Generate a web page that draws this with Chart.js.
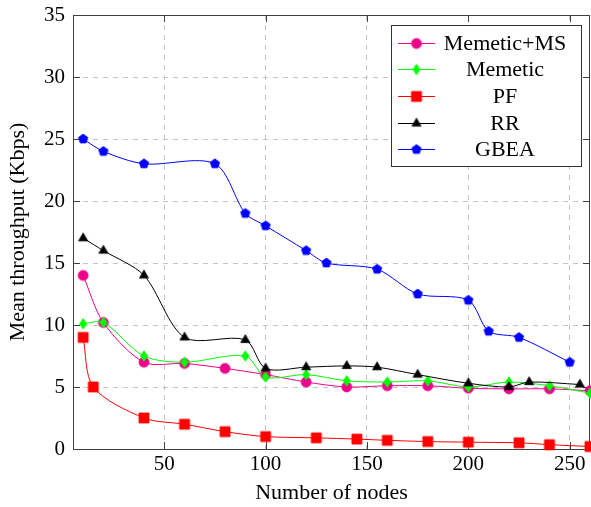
<!DOCTYPE html>
<html>
<head>
<meta charset="utf-8">
<script src="https://cdn.jsdelivr.net/npm/chart.js@4/dist/chart.umd.min.js"></script>
<style>
html,body{margin:0;padding:0;background:#fff;}
#wrap{width:591px;height:507px;position:relative;}
</style>
</head>
<body>
<div id="wrap"><canvas id="c" width="591" height="507"></canvas></div>
<script>
// ---------- data ----------
const xLabel = 'Number of nodes';
const yLabel = 'Mean throughput (Kbps)';
const xTicks = [50, 100, 150, 200, 250];
const yTicks = [0, 5, 10, 15, 20, 25, 30, 35];
const seriesNames = ['Memetic+MS', 'Memetic', 'PF', 'RR', 'GBEA'];

const memeticMsX = [10, 20, 40, 60, 80, 100, 120, 140, 160, 180, 200, 220, 240, 260];
const memeticMsY = [14, 10.2, 7.0, 6.9, 6.5, 6.0, 5.4, 5.0, 5.1, 5.1, 4.9, 4.85, 4.85, 4.7];

const memeticX = [10, 20, 40, 60, 90, 100, 120, 140, 160, 180, 200, 220, 240, 260];
const memeticY = [10.1, 10.2, 7.5, 7.0, 7.5, 5.8, 6.0, 5.5, 5.4, 5.5, 5.0, 5.4, 5.1, 4.5];

const pfX = [10, 15, 40, 60, 80, 100, 125, 145, 160, 180, 200, 225, 240, 260];
const pfY = [9, 5, 2.5, 2.0, 1.4, 1.0, 0.9, 0.8, 0.7, 0.6, 0.55, 0.5, 0.35, 0.2];

const rrX = [10, 20, 40, 60, 90, 100, 120, 140, 155, 175, 200, 220, 230, 255];
const rrY = [17, 16, 14, 9.0, 8.8, 6.5, 6.6, 6.7, 6.6, 6.0, 5.3, 5.0, 5.4, 5.2];

const gbeaX = [10, 20, 40, 75, 90, 100, 120, 130, 155, 175, 200, 210, 225, 250];
const gbeaY = [25, 24, 23, 23, 19, 18, 16, 15, 14.5, 12.5, 12, 9.5, 9, 7];

// ---------- styles ----------
const FONT = "'Liberation Serif', 'Times New Roman', serif";
const FS = 21;
const FS_T = 22;

function makeMarker(shape, color) {
  const c = document.createElement('canvas');
  c.width = 16; c.height = 16;
  const g = c.getContext('2d');
  g.translate(8, 8);
  g.fillStyle = color;
  g.strokeStyle = color;
  g.lineWidth = 0.8;
  g.beginPath();
  if (shape === 'circle') {
    g.arc(0, 0, 5, 0, Math.PI * 2);
  } else if (shape === 'square') {
    g.rect(-5, -5, 10, 10);
  } else if (shape === 'triangle') {
    const R = 5.3;
    g.moveTo(0, -R);
    g.lineTo(R * Math.sin(Math.PI / 3), R / 2);
    g.lineTo(-R * Math.sin(Math.PI / 3), R / 2);
    g.closePath();
  } else if (shape === 'diamond') {
    g.moveTo(0, -5.2); g.lineTo(3.6, 0); g.lineTo(0, 5.2); g.lineTo(-3.6, 0); g.closePath();
  } else if (shape === 'pentagon') {
    const R = 4.9;
    for (let k = 0; k < 5; k++) {
      const a = -Math.PI / 2 + k * 2 * Math.PI / 5;
      const px = R * Math.cos(a), py = R * Math.sin(a);
      if (k === 0) g.moveTo(px, py); else g.lineTo(px, py);
    }
    g.closePath();
  }
  g.fill();
  g.stroke();
  return c;
}

const colors = ['#EC008C', '#00FF00', '#FF0000', '#000000', '#0000FF'];
const shapes = ['circle', 'diamond', 'square', 'triangle', 'pentagon'];
const markers = shapes.map((s, i) => makeMarker(s, colors[i]));
const xsList = [memeticMsX, memeticX, pfX, rrX, gbeaX];
const ysList = [memeticMsY, memeticY, pfY, rrY, gbeaY];

const datasets = seriesNames.map((name, i) => ({
  label: name,
  data: xsList[i].map((x, j) => ({ x: x, y: ysList[i][j] })),
  borderColor: colors[i],
  backgroundColor: colors[i],
  borderWidth: 1,
  pointStyle: markers[i],
  pointRadius: 1,
  pointHoverRadius: 1,
  pointBorderWidth: 0,
  tension: 0.3,
  clip: false,
  order: seriesNames.length - i
}));

const framePlugin = {
  id: 'frame',
  beforeDatasetsDraw(chart) {
    const { ctx, chartArea: a, scales } = chart;
    ctx.save();
    ctx.strokeStyle = '#404040';
    ctx.lineWidth = 1;
    ctx.strokeRect(a.left + 0.5, a.top + 0.5, a.right - a.left - 1, a.bottom - a.top);
    const TL = 7;
    ctx.beginPath();
    xTicks.forEach(v => {
      const p = Math.round(scales.x.getPixelForValue(v)) + 0.5;
      ctx.moveTo(p, a.bottom); ctx.lineTo(p, a.bottom - TL);
      ctx.moveTo(p, a.top); ctx.lineTo(p, a.top + TL);
    });
    yTicks.forEach(v => {
      const p = Math.round(scales.y.getPixelForValue(v)) + 0.5;
      ctx.moveTo(a.left, p); ctx.lineTo(a.left + TL, p);
      ctx.moveTo(a.right, p); ctx.lineTo(a.right - TL, p);
    });
    ctx.stroke();
    ctx.restore();
  }
};

const legendPlugin = {
  id: 'boxLegend',
  afterDraw(chart) {
    const { ctx } = chart;
    const bx = 391.5, by = 25.5, bw = 190, bh = 141;
    ctx.save();
    ctx.fillStyle = '#ffffff';
    ctx.fillRect(bx, by, bw, bh);
    ctx.strokeStyle = '#333333';
    ctx.lineWidth = 1;
    ctx.strokeRect(bx, by, bw, bh);
    ctx.font = FS_T + 'px ' + FONT;
    ctx.textAlign = 'center';
    ctx.textBaseline = 'middle';
    seriesNames.forEach((name, i) => {
      const y = Math.round(by + 17 + i * 26.7) + 0.5;
      ctx.strokeStyle = colors[i];
      ctx.beginPath();
      ctx.moveTo(398, y); ctx.lineTo(435, y);
      ctx.stroke();
      ctx.drawImage(markers[i], 416.5 - 8, y - 8);
      ctx.fillStyle = '#000';
      ctx.fillText(name, 505, y + 1);
    });
    ctx.restore();
  }
};

new Chart(document.getElementById('c'), {
  type: 'line',
  data: { datasets: datasets },
  options: {
    responsive: false,
    animation: false,
    devicePixelRatio: 1,
    layout: { padding: { left: 0, right: 1, top: 15, bottom: 0 } },
    plugins: { legend: { display: false }, tooltip: { enabled: false } },
    scales: {
      x: {
        type: 'linear',
        min: 5, max: 260,
        afterBuildTicks: s => { s.ticks = xTicks.map(v => ({ value: v })); },
        afterFit: s => { s.height = 58; s.paddingLeft = 0; s.paddingRight = 0; },
        grid: { color: '#c4c4c4', lineWidth: 1, drawTicks: false },
        border: { display: false, dash: [5, 5] },
        ticks: { color: '#000', font: { family: FONT, size: FS }, padding: 3, maxRotation: 0, autoSkip: false, callback: v => String(v) },
        title: { display: true, text: xLabel, color: '#000', font: { family: FONT, size: FS_T }, padding: { top: 0, bottom: 1 } }
      },
      y: {
        type: 'linear',
        min: 0, max: 35,
        afterBuildTicks: s => { s.ticks = yTicks.map(v => ({ value: v })); },
        afterFit: s => { s.width = 73; s.paddingTop = 0; s.paddingBottom = 0; },
        grid: { color: '#c4c4c4', lineWidth: 1, drawTicks: false },
        border: { display: false, dash: [5, 5] },
        ticks: { color: '#000', font: { family: FONT, size: FS }, padding: 8, callback: v => String(v) },
        title: { display: true, text: yLabel, color: '#000', font: { family: FONT, size: FS_T }, padding: { top: 5, bottom: 0 } }
      }
    }
  },
  plugins: [framePlugin, legendPlugin]
});
</script>
</body>
</html>
